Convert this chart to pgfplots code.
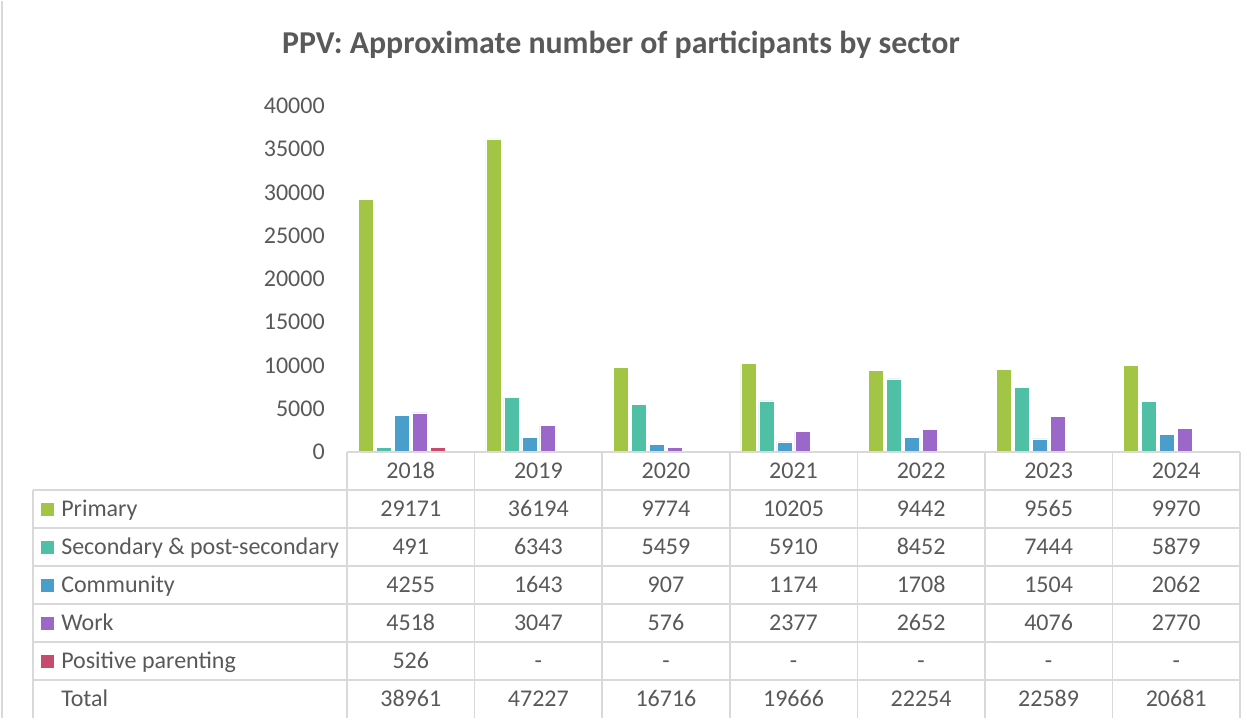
\documentclass[border=0pt]{standalone}
\usepackage{pgfplots}
\usepackage{pgfplotstable}
\pgfplotsset{compat=1.18}
\usepackage{fontspec}
\setmainfont{Carlito}
\definecolor{cPri}{HTML}{A2C545}
\definecolor{cSec}{HTML}{4FBFA5}
\definecolor{cCom}{HTML}{4A9ECC}
\definecolor{cWork}{HTML}{9B67C9}
\definecolor{cPar}{HTML}{C84B6E}
\definecolor{txt}{HTML}{595959}
\definecolor{grd}{HTML}{D9D9D9}

\pgfplotstableread{
x primary secondary community work
0 29171 491 4255 4518
1 36194 6343 1643 3047
2 9774 5459 907 576
3 10205 5910 1174 2377
4 9442 8452 1708 2652
5 9565 7444 1504 4076
6 9970 5879 2062 2770
}\datatable
\pgfplotstableread{
x parenting
0 526
}\partable

\begin{document}
\begin{tikzpicture}
\begin{axis}[
  at={(0,0)}, anchor=south west,
  scale only axis,
  width=669.75pt, height=259.5pt,
  xmin=-0.5, xmax=6.5, ymin=0, ymax=40000,
  ybar, bar width=11.25pt,
  axis line style={draw=none},
  xtick=\empty,
  ytick={0,5000,...,40000},
  major tick length=0pt,
  yticklabel style={font=\fontsize{18}{20}\selectfont, text=txt, inner sep=0pt, xshift=-16.5pt},
  /pgf/number format/assume math mode=true,
  /pgf/number format/1000 sep={},
  scaled y ticks=false,
  clip=false,
]
\addplot[fill=cPri, draw=white, line width=0.5pt, bar shift=-33.75pt] table[x=x,y=primary]{\datatable};
\addplot[fill=cSec, draw=white, line width=0.5pt, bar shift=-20.25pt] table[x=x,y=secondary]{\datatable};
\addplot[fill=cCom, draw=white, line width=0.5pt, bar shift=-6.75pt] table[x=x,y=community]{\datatable};
\addplot[fill=cWork, draw=white, line width=0.5pt, bar shift=6.75pt] table[x=x,y=work]{\datatable};
\addplot[fill=cPar, draw=white, line width=0.5pt, bar shift=20.25pt] table[x=x,y=parenting]{\partable};
\end{axis}

\begin{scope}[x=0.75pt, y=-0.75pt, xshift=-260.25pt, yshift=338.25pt,
  every node/.style={text=txt, font=\fontsize{18}{20}\selectfont, inner sep=0pt}]
  % overall frame
  \path (0,0) rectangle (1247,717);
  \draw[grd, line width=1.5pt] (2,0) -- (2,717);
  % title
  \node[font=\fontsize{23.9}{26}\selectfont\bfseries, anchor=base] at (621,52) {PPV: Approximate number of participants by sector};
  % grid
  \draw[grd, line width=1.2pt] (347,451) -- (1240,451);
  \foreach \yy in {489,527,565,603,641,679}
    \draw[grd, line width=1.2pt] (33,\yy) -- (1240,\yy);
  \draw[grd, line width=1.2pt] (33,489) -- (33,717);
  \foreach \xx in {347,474.6,602.1,729.7,857.3,984.9,1112.4,1240}
    \draw[grd, line width=1.2pt] (\xx,451) -- (\xx,717);
  % header
  \foreach \yr [count=\i from 0] in {2018,2019,2020,2021,2022,2023,2024}
    \node[anchor=base] at (410.8+127.57*\i,477.5) {\yr};
  % row labels
  \foreach \lab/\col [count=\r from 0] in {Primary/cPri,Secondary \& post-secondary/cSec,Community/cCom,Work/cWork,Positive parenting/cPar}{
    \fill[\col] (41,{501.5+38*\r}) rectangle (54,{514.5+38*\r});
    \node[anchor=base west] at (61,{515.5+38*\r}) {\lab};
  }
  \node[anchor=base west] at (61,705.5) {Total};
  % values
  \foreach \v [count=\i from 0] in {29171,36194,9774,10205,9442,9565,9970}
    \node[anchor=base] at (410.8+127.57*\i,515.5) {\v};
  \foreach \v [count=\i from 0] in {491,6343,5459,5910,8452,7444,5879}
    \node[anchor=base] at (410.8+127.57*\i,553.5) {\v};
  \foreach \v [count=\i from 0] in {4255,1643,907,1174,1708,1504,2062}
    \node[anchor=base] at (410.8+127.57*\i,591.5) {\v};
  \foreach \v [count=\i from 0] in {4518,3047,576,2377,2652,4076,2770}
    \node[anchor=base] at (410.8+127.57*\i,629.5) {\v};
  \foreach \v [count=\i from 0] in {526,-,-,-,-,-,-}
    \node[anchor=base] at (410.8+127.57*\i,667.5) {\v};
  \foreach \v [count=\i from 0] in {38961,47227,16716,19666,22254,22589,20681}
    \node[anchor=base] at (410.8+127.57*\i,705.5) {\v};
\end{scope}
\end{tikzpicture}
\end{document}
